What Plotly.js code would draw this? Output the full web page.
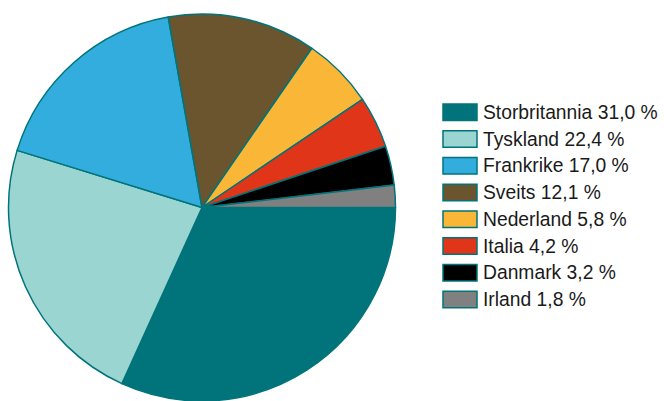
<!DOCTYPE html>
<html>
<head>
<meta charset="utf-8">
<script src="https://cdn.plot.ly/plotly-3.0.1.min.js"></script>
<style>html,body{margin:0;padding:0;background:#fff;}#chart{width:664px;height:401px;}</style>
</head>
<body>
<div id="chart"></div>
<script>
const countries = ["Storbritannia", "Tyskland", "Frankrike", "Sveits", "Nederland", "Italia", "Danmark", "Irland"];
const shares = [31.0, 22.4, 17.0, 12.1, 5.8, 4.2, 3.2, 1.8];
const colors = ["#00747a", "#9ad5d2", "#33addd", "#6b552e", "#f9b637", "#e1351a", "#000000", "#808080"];
const legendLabels = countries.map((c, i) => c + " " + shares[i].toFixed(1).replace(".", ",") + " %");

const W = 664, H = 401;
const edge = "#00747a";

const shapes = [];
const annotations = [];
const rowTop = 112.3, rowStep = 26.75;
countries.forEach((c, i) => {
  const yc = rowTop + i * rowStep;
  shapes.push({
    type: "rect", xref: "paper", yref: "paper",
    x0: 443 / W, x1: 477 / W,
    y0: 1 - (yc + 8.3) / H, y1: 1 - (yc - 8.3) / H,
    fillcolor: colors[i], line: {color: edge, width: 1.5}
  });
  annotations.push({
    xref: "paper", yref: "paper", x: 481 / W, y: 1 - yc / H,
    xanchor: "left", yanchor: "middle", showarrow: false,
    text: legendLabels[i],
    font: {family: "Liberation Sans, Arial, sans-serif", size: 19.3, color: "#1a1a1a"}
  });
});

const data = [{
  type: "pie",
  labels: countries,
  values: shares,
  sort: false,
  direction: "clockwise",
  rotation: 90,
  textinfo: "none",
  hoverinfo: "none",
  marker: {colors: colors, line: {color: edge, width: 1.5}},
  domain: {x: [8 / W, 396 / W], y: [0, 387 / H]},
  showlegend: false
}];

const layout = {
  width: W, height: H,
  margin: {l: 0, r: 0, t: 0, b: 0},
  paper_bgcolor: "#ffffff",
  showlegend: false,
  shapes: shapes,
  annotations: annotations
};

Plotly.newPlot("chart", data, layout, {displayModeBar: false, staticPlot: true});
</script>
</body>
</html>
